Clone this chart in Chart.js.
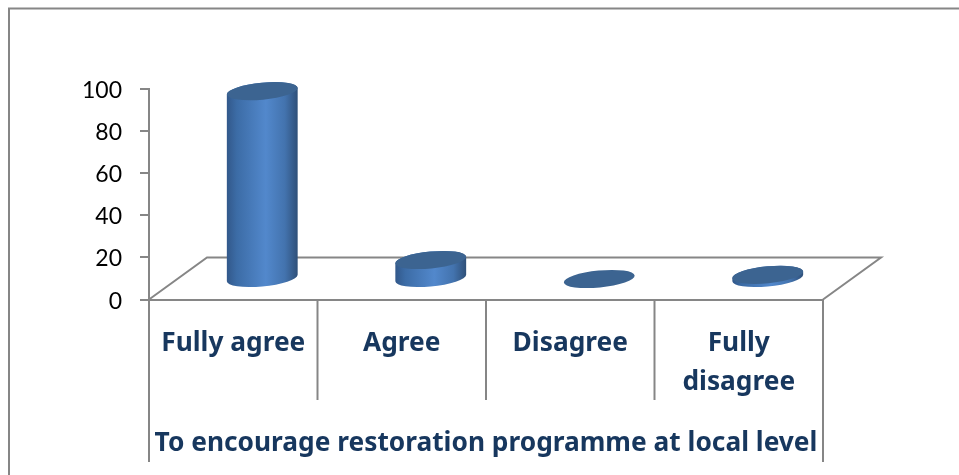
<!DOCTYPE html>
<html><head><meta charset="utf-8">
<style>html,body{margin:0;padding:0;background:#fff}canvas{display:block}</style>
<script src="https://cdn.jsdelivr.net/npm/chart.js@4"></script>
</head><body><canvas id="c" width="959" height="475"></canvas>
<script>
const categories = [["Fully agree"], ["Agree"], ["Disagree"], ["Fully", "disagree"]];
const seriesValues = [89, 9, 0, 2];
const yTicks = [0, 20, 40, 60, 80, 100];
const groupLabel = "To encourage restoration programme at local level";

const GRAY = "#868686", NAVY = "#17375E";
const DX = 29, DY = 20.5, FLOOR_DX = 58, FLOOR_DY = 42, TILT = -5.5 * Math.PI / 180, ASPECT = 0.24;

class Cylinder extends Chart.BarElement {
  static id = "cylinder";
  static defaults = Chart.BarElement.defaults;
  draw(ctx) {
    const {x, y, base, width} = this.getProps(["x", "y", "base", "width"], false);
    const cx = x + DX, top = y - DY, bot = base - DY;
    const b = width / 2 * ASPECT;
    const a = width / 2 * 1.005;
    const t0 = Math.atan2(-b * Math.sin(TILT), a * Math.cos(TILT));
    const ex = a * Math.cos(t0) * Math.cos(TILT) - b * Math.sin(t0) * Math.sin(TILT);
    ctx.save();
    if (bot - top > 0.5) {
      const g = ctx.createLinearGradient(cx - ex, 0, cx + ex, 0);
      g.addColorStop(0, "#32588A");
      g.addColorStop(0.14, "#3C6CA6");
      g.addColorStop(0.55, "#5288CC");
      g.addColorStop(0.82, "#4373AE");
      g.addColorStop(1, "#2F5079");
      ctx.fillStyle = g;
      ctx.beginPath();
      ctx.ellipse(cx, bot, a, b, TILT, t0, t0 + Math.PI);
      ctx.ellipse(cx, top, a, b, TILT, t0 + Math.PI, t0 + 2 * Math.PI);
      ctx.closePath();
      ctx.fill();
    }
    ctx.fillStyle = "#3C6491";
    ctx.beginPath();
    ctx.ellipse(cx, top, a, b, TILT, 0, 2 * Math.PI);
    ctx.fill();
    ctx.restore();
  }
}
class CylinderController extends Chart.BarController {
  static id = "cylinderBar";
  static defaults = {...Chart.BarController.defaults, dataElementType: "cylinder"};
  static overrides = Chart.BarController.overrides;
}
Chart.register(Cylinder, CylinderController);

const framePlugin = {
  id: "frame",
  beforeDraw(chart) {
    chart.scales.y.getLabelItems().forEach(it => { it.textOffset = 1.6; });
  },
  beforeDatasetsDraw(chart) {
    const {ctx} = chart;
    const xs = chart.scales.x, ys = chart.scales.y;
    const y0 = ys.getPixelForValue(0);
    ctx.save();
    ctx.strokeStyle = GRAY;
    ctx.lineWidth = 2;
    ctx.beginPath();
    ctx.moveTo(xs.left, y0);
    ctx.lineTo(xs.left + FLOOR_DX, y0 - FLOOR_DY);
    ctx.lineTo(xs.right + FLOOR_DX, y0 - FLOOR_DY);
    ctx.lineTo(xs.right, y0);
    ctx.stroke();
    // category dividers (inner) and outer group brackets
    const n = categories.length;
    for (let i = 0; i <= n; i++) {
      const px = xs.left + (xs.right - xs.left) * i / n;
      const outer = i === 0 || i === n;
      ctx.beginPath();
      ctx.moveTo(px, y0);
      ctx.lineTo(px, outer ? 462 : 400);
      ctx.stroke();
    }
    // outer chart border
    ctx.lineWidth = 2;
    ctx.beginPath();
    ctx.moveTo(9, 475);
    ctx.lineTo(9, 8.5);
    ctx.lineTo(959, 8.5);
    ctx.stroke();
    ctx.restore();
  }
};

new Chart(document.getElementById("c"), {
  type: "cylinderBar",
  data: {
    labels: categories,
    datasets: [{data: seriesValues, backgroundColor: "#4F81BD", categoryPercentage: 1, barPercentage: 0.42, clip: false}]
  },
  options: {
    responsive: false,
    animation: false,
    layout: {padding: {left: 0, top: 88.5, right: 136, bottom: 10}},
    plugins: {legend: {display: false}, title: {display: false}, tooltip: {enabled: false}},
    scales: {
      x: {
        afterFit(s) { s.height = 165.5; },
        offset: true,
        grid: {display: false},
        border: {display: true, color: GRAY, width: 2},
        ticks: {color: NAVY, padding: 17, maxRotation: 0, autoSkip: false, font: {family: "Noto Sans", weight: "bold", size: 26.3, lineHeight: 1.48}},
        title: {display: true, text: groupLabel, color: NAVY, padding: {top: 0, bottom: 6}, font: {family: "Noto Sans", weight: "bold", size: 26.3}}
      },
      y: {
        min: 0, max: 100,
        afterFit(s) { s.width = 149; },
        afterBuildTicks(s) { s.ticks = yTicks.map(v => ({value: v})); },
        grid: {drawOnChartArea: false, color: GRAY, tickColor: GRAY, tickLength: 9, lineWidth: 2},
        border: {display: true, color: GRAY, width: 2},
        ticks: {color: "#000", padding: 18, font: {family: "Lato", size: 23}}
      }
    }
  },
  plugins: [framePlugin]
});
</script></body></html>
